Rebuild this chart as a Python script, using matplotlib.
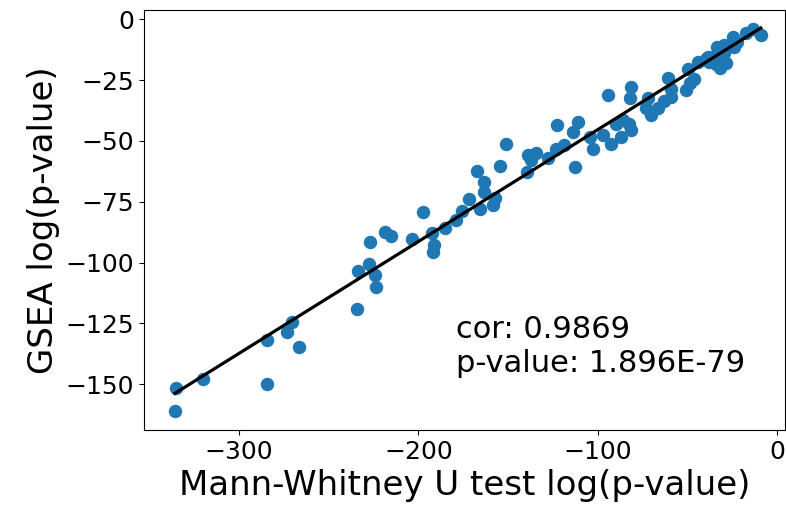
import numpy as np
import matplotlib
matplotlib.use("Agg")
import matplotlib.pyplot as plt

# Mann-Whitney U test log(p-value)
mw_logp = [
    -9.0, -13.5, -17.0, -24.5, -22.0, -24.0, -29.5, -33.5, -29.5, -34.5,
    -38.5, -39.5, -44.0, -38.0, -34.0, -28.5, -32.0, -49.5, -46.0, -48.5,
    -50.7, -60.9, -59.0, -59.0, -62.8, -66.5, -72.0, -73.3, -70.5, -81.3,
    -82.0, -94.3, -82.3, -81.3, -86.9, -92.5, -89.7, -86.0, -97.0, -104.5,
    -102.7, -111.0, -113.8, -112.9, -122.6, -118.5, -123.1, -127.7, -134.3, -138.9,
    -137.4, -139.6, -151.2, -154.7, -167.5, -163.5, -163.5, -171.8, -157.2, -158.4,
    -165.7, -175.5, -179.2, -185.0, -197.6, -192.4, -191.3, -191.8, -203.4, -218.8,
    -215.0, -226.9, -227.3, -233.5, -224.3, -223.7, -234.0, -270.3, -273.0, -266.7,
    -284.6, -284.4, -320.2, -335.0, -335.8,
]
# GSEA log(p-value)
gsea_logp = [
    -6.6, -4.2, -5.7, -7.5, -9.5, -11.5, -10.5, -11.5, -14.0, -15.0,
    -15.5, -16.5, -17.5, -17.5, -18.5, -18.0, -20.0, -20.3, -24.4, -26.4,
    -29.2, -24.2, -28.5, -32.0, -33.5, -36.3, -32.2, -36.3, -39.5, -27.8,
    -32.4, -31.0, -42.9, -45.6, -48.4, -51.1, -42.9, -41.5, -47.7, -48.2,
    -53.2, -42.2, -46.3, -60.8, -43.5, -51.5, -53.2, -57.0, -54.8, -55.9,
    -57.7, -62.6, -51.1, -60.2, -62.4, -66.9, -70.8, -73.7, -73.3, -76.2,
    -78.0, -79.0, -82.5, -85.9, -79.2, -88.0, -92.9, -95.5, -90.5, -87.4,
    -89.0, -91.7, -100.7, -103.4, -104.9, -110.0, -119.0, -124.5, -128.5, -134.7,
    -131.7, -150.0, -147.7, -151.5, -160.8,
]
cor_text = "cor: 0.9869\np-value: 1.896E-79"
x_ticks = [-300, -200, -100, 0]
y_ticks = [0, -25, -50, -75, -100, -125, -150]

x = np.array(mw_logp)
y = np.array(gsea_logp)

fig = plt.figure(figsize=(7.86, 5.15), dpi=100)
ax = fig.add_axes([144/786, 1 - 430/515, (785 - 144)/786, (430 - 10)/515])

ax.scatter(x, y, s=75, color="#1f77b4", zorder=2)
coef = np.polyfit(x, y, 1)
xs = np.array([x.min(), x.max()])
ax.plot(xs, np.polyval(coef, xs), color="black", lw=2.3, zorder=3)

ax.text(-179, -145, cor_text, fontsize=22, va="baseline", ha="left")

ax.set_xlim(-353, 4.5)
ax.set_ylim(-168.8, 3.8)
ax.set_xticks(x_ticks)
ax.set_yticks(y_ticks)
ax.tick_params(labelsize=18)
ax.set_xlabel("Mann-Whitney U test log(p-value)", fontsize=24.5)
ax.set_ylabel("GSEA log(p-value)", fontsize=24.5)

fig.savefig("out.png", dpi=100)
